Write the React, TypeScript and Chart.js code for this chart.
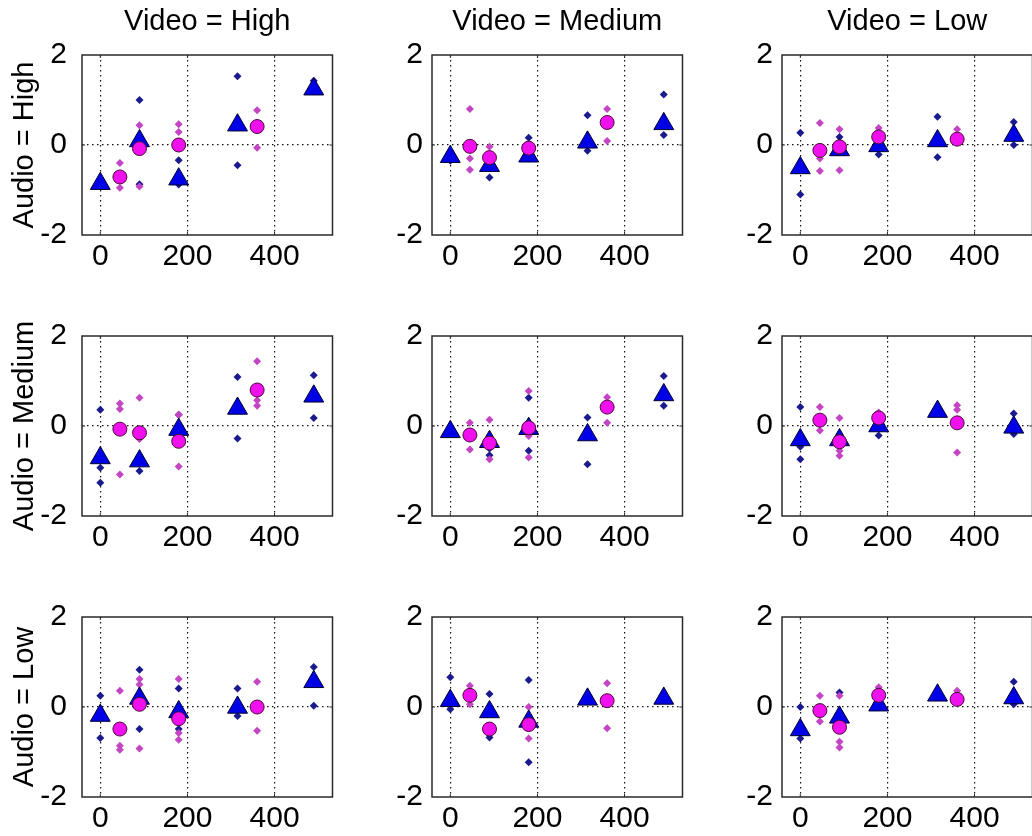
import React, { useEffect, useRef } from 'react';
import { Chart, registerables } from 'chart.js';

Chart.register(...registerables);

const videoLevels = ['High', 'Medium', 'Low'];
const audioLevels = ['High', 'Medium', 'Low'];
const triX = [0, 90, 180, 315, 490];
const circX = [45, 90, 180, 360];
const xTicks = [0, 200, 400];
const yTicks = [-2, 0, 2];

// each row = one audio level; inner arrays = video High, Medium, Low
const triAudioHigh = [
  [-0.86, 0.09, -0.76, 0.44, 1.24],
  [-0.26, -0.46, -0.25, 0.06, 0.47],
  [-0.51, -0.11, -0.02, 0.09, 0.21],
];
const triAudioMedium = [
  [-0.71, -0.78, -0.08, 0.39, 0.66],
  [-0.13, -0.35, -0.06, -0.2, 0.69],
  [-0.31, -0.31, 0.0, 0.32, -0.03],
];
const triAudioLow = [
  [-0.19, 0.19, -0.11, -0.01, 0.56],
  [0.14, -0.11, -0.32, 0.17, 0.19],
  [-0.51, -0.23, 0.04, 0.26, 0.2],
];

const circAudioHigh = [
  [-0.71, -0.08, 0.0, 0.41],
  [-0.03, -0.28, -0.07, 0.5],
  [-0.12, -0.04, 0.18, 0.13],
];
const circAudioMedium = [
  [-0.07, -0.15, -0.34, 0.8],
  [-0.2, -0.38, -0.04, 0.42],
  [0.13, -0.35, 0.18, 0.07],
];
const circAudioLow = [
  [-0.49, 0.06, -0.26, 0.0],
  [0.26, -0.49, -0.39, 0.14],
  [-0.08, -0.45, 0.26, 0.17],
];

const triDotsAudioHigh = [
  [[], [1.0, -0.87], [-0.34, -0.88], [1.53, -0.45], [1.43, 1.2]],
  [[-0.35], [-0.72], [0.16, -0.3], [0.66, -0.13], [1.12, 0.22]],
  [[0.27, -1.1], [0.18], [-0.21], [0.63, -0.27], [0.51, 0.0]],
];
const triDotsAudioMedium = [
  [[0.36, -0.93, -1.26], [-1.0], [0.25], [1.09, -0.28], [1.13, 0.18]],
  [[], [-0.5, -0.65], [0.63, -0.55], [0.19, -0.85], [1.11, 0.45]],
  [[0.42, -0.46, -0.74], [], [-0.21], [], [0.28, -0.18]],
];
const triDotsAudioLow = [
  [[0.25, -0.69], [0.83, -0.49], [0.41, -0.49], [0.41, -0.2], [0.89, 0.03]],
  [[0.66, -0.05], [0.29, -0.68], [0.6, -1.23], [], []],
  [[0.0, -0.7], [0.32], [], [], [0.56, 0.06]],
];

const circDotsAudioHigh = [
  [[-0.4, -0.95], [0.44, -0.92], [0.46, 0.29], [0.77, -0.06]],
  [[0.8, -0.3, -0.55], [-0.04, -0.5], [], [0.8, 0.09]],
  [[0.49, -0.3, -0.58], [0.35, -0.56], [0.38, -0.08], [0.35]],
];
const circDotsAudioMedium = [
  [[0.5, 0.38, -1.08], [0.63, -0.29], [0.25, -0.9], [1.44, 0.57, 0.45]],
  [[0.07, -0.52], [0.14, -0.74], [0.78, -0.22, -0.7], [0.64, 0.07]],
  [[0.42, -0.1], [0.18, -0.55, -0.66], [0.3], [0.46, 0.36, -0.59]],
];
const circDotsAudioLow = [
  [[0.36, -0.86, -0.95], [0.62, 0.5, -0.92], [0.62, -0.58, -0.73], [0.56, -0.53]],
  [[0.47, 0.06], [], [0.0, -0.7], [0.53, -0.47]],
  [[0.25, -0.32], [0.25, -0.77, -0.9], [0.44], [0.36]],
];

const triMeans = [triAudioHigh, triAudioMedium, triAudioLow];
const circMeans = [circAudioHigh, circAudioMedium, circAudioLow];
const triDots = [triDotsAudioHigh, triDotsAudioMedium, triDotsAudioLow];
const circDots = [circDotsAudioHigh, circDotsAudioMedium, circDotsAudioLow];

const FONT = '"Liberation Sans", Arial, Helvetica, sans-serif';
const CANVAS_W = 345;
const CANVAS_H = 275;

const boxPlugin = {
  id: 'matlabBox',
  afterDraw(chart: any) {
    const { ctx, chartArea } = chart;
    const { left, top, right, bottom } = chartArea;
    const xs = chart.scales.x;
    const ys = chart.scales.y;
    ctx.save();
    ctx.strokeStyle = '#2a2a2a';
    ctx.lineWidth = 1.5;
    ctx.strokeRect(left, top, right - left, bottom - top);
    ctx.lineWidth = 1;
    ctx.beginPath();
    xTicks.forEach((v) => {
      const px = xs.getPixelForValue(v);
      ctx.moveTo(px, bottom);
      ctx.lineTo(px, bottom - 3);
      ctx.moveTo(px, top);
      ctx.lineTo(px, top + 3);
    });
    yTicks.forEach((v) => {
      if (v === ys.min || v === ys.max) return;
      const py = ys.getPixelForValue(v);
      ctx.moveTo(left, py);
      ctx.lineTo(left + 3, py);
      ctx.moveTo(right, py);
      ctx.lineTo(right - 3, py);
    });
    ctx.stroke();
    ctx.restore();
  },
};

function Panel({ row, col }: { row: number; col: number }) {
  const ref = useRef<HTMLCanvasElement>(null);
  useEffect(() => {
    const tri = triMeans[row][col];
    const circ = circMeans[row][col];
    const tDots = triDots[row][col];
    const cDots = circDots[row][col];
    const chart = new Chart(ref.current as HTMLCanvasElement, {
      type: 'scatter',
      data: {
        datasets: [
          {
            label: 'circles',
            data: circX.map((x, i) => ({ x, y: circ[i] })),
            pointStyle: 'circle',
            pointRadius: 7,
            backgroundColor: '#f010ee',
            borderColor: '#4a0a36',
            borderWidth: 1,
          },
          {
            label: 'triangles',
            data: triX.map((x, i) => ({ x, y: tri[i] })),
            pointStyle: 'triangle',
            pointRadius: 11.5,
            backgroundColor: '#0000e6',
            borderColor: '#000030',
            borderWidth: 1,
          },
          {
            label: 'circle dots',
            data: cDots.flatMap((vals, i) => vals.map((v) => ({ x: circX[i], y: v }))),
            pointStyle: 'rectRot',
            pointRadius: 4,
            backgroundColor: '#c445c4',
            borderColor: '#c445c4',
            borderWidth: 0,
          },
          {
            label: 'triangle dots',
            data: tDots.flatMap((vals, i) => vals.map((v) => ({ x: triX[i], y: v }))),
            pointStyle: 'rectRot',
            pointRadius: 4,
            backgroundColor: '#1a1a8e',
            borderColor: '#1a1a8e',
            borderWidth: 0,
          },
        ],
      },
      options: {
        animation: false,
        responsive: false,
        devicePixelRatio: 1,
        events: [],
        layout: { padding: { top: row === 0 ? 0 : 55, right: 10, left: 0, bottom: 0 } },
        plugins: {
          legend: { display: false },
          tooltip: { enabled: false },
          title: {
            display: row === 0,
            text: `Video = ${videoLevels[col]}`,
            fullSize: false,
            color: '#000',
            font: { family: FONT, size: 29, weight: 'normal', lineHeight: 1.2 },
            padding: { top: 4.6, bottom: 15.6 },
          },
        },
        scales: {
          x: {
            type: 'linear',
            min: -42,
            max: 533,
            afterBuildTicks: (s: any) => {
              s.ticks = xTicks.map((v) => ({ value: v }));
            },
            afterFit: (s: any) => {
              s.height = 40;
            },
            grid: { color: '#111', lineWidth: 1.2, drawTicks: false, tickLength: 0 },
            border: { display: false, dash: [1.5, 3.5] },
            ticks: {
              color: '#000',
              font: { family: FONT, size: 30, lineHeight: 1.2 },
              padding: 4,
              maxRotation: 0,
              autoSkip: false,
            },
          },
          y: {
            type: 'linear',
            min: -2,
            max: 2,
            afterBuildTicks: (s: any) => {
              s.ticks = yTicks.map((v) => ({ value: v }));
            },
            afterFit: (s: any) => {
              s.width = 82;
            },
            grid: {
              color: (c: any) => (c.tick && c.tick.value === 0 ? '#111' : 'rgba(0,0,0,0)'),
              lineWidth: 1.2,
              drawTicks: false,
              tickLength: 0,
            },
            border: { display: false, dash: [1.5, 3.5] },
            ticks: {
              color: '#000',
              font: { family: FONT, size: 30, lineHeight: 1.2 },
              padding: col === 0 ? 15 : 9,
            },
            title: {
              display: col === 0,
              text: `Audio = ${audioLevels[row]}`,
              color: '#000',
              font: { family: FONT, size: 29, lineHeight: 1.2 },
              padding: { top: 7.6, bottom: 0 },
            },
          },
        },
      },
      plugins: [boxPlugin],
    } as any);
    return () => chart.destroy();
  }, [row, col]);
  return (
    <canvas
      ref={ref}
      width={CANVAS_W}
      height={CANVAS_H}
      style={{
        position: 'absolute',
        left: col * 350,
        top: row * 281,
        width: CANVAS_W,
        height: CANVAS_H,
      }}
    />
  );
}

export default function App() {
  const cells: React.ReactNode[] = [];
  for (let r = 0; r < 3; r++) {
    for (let c = 0; c < 3; c++) {
      cells.push(<Panel key={`${r}-${c}`} row={r} col={c} />);
    }
  }
  return (
    <div
      style={{
        position: 'absolute',
        left: 0,
        top: 0,
        width: 1032,
        height: 836,
        overflow: 'hidden',
        background: '#fff',
      }}
    >
      {cells}
    </div>
  );
}
